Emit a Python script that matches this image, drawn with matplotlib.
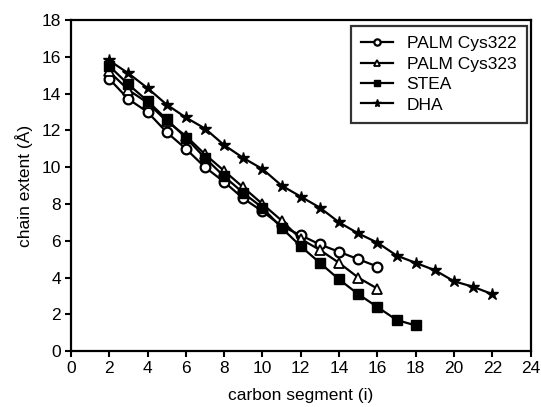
import matplotlib
matplotlib.use('Agg')
from matplotlib import pyplot as plt

plt.rcParams['font.family'] = ['Liberation Sans', 'DejaVu Sans']

# carbon segment positions
x_palm = list(range(2, 17))
x_stea = list(range(2, 19))
x_dha = list(range(2, 23))

palm322 = [14.8, 13.7, 13.0, 11.9, 11.0, 10.0, 9.2, 8.3, 7.6, 6.8, 6.3, 5.8, 5.4, 5.0, 4.6]
palm323 = [15.2, 14.2, 13.5, 12.5, 11.7, 10.7, 9.8, 8.9, 8.0, 7.1, 6.1, 5.5, 4.8, 4.0, 3.4]
stea = [15.5, 14.5, 13.6, 12.6, 11.6, 10.5, 9.5, 8.6, 7.8, 6.7, 5.7, 4.8, 3.9, 3.1, 2.4, 1.7, 1.4]
dha = [15.8, 15.1, 14.3, 13.4, 12.7, 12.1, 11.2, 10.5, 9.9, 9.0, 8.4, 7.8, 7.0, 6.4, 5.9,
       5.2, 4.8, 4.4, 3.8, 3.5, 3.1]

fig = plt.figure(figsize=(5.41, 4.07), dpi=100)
ax = fig.add_axes([0.131, 0.137, 0.850, 0.814])

ax.plot(x_palm, palm322, '-o', color='black', mfc='white', mec='black', ms=7, mew=1.6, lw=1.6, label='PALM Cys322')
ax.plot(x_palm, palm323, '-^', color='black', mfc='white', mec='black', ms=7, mew=1.3, lw=1.6, label='PALM Cys323')
ax.plot(x_stea, stea, '-s', color='black', ms=7, lw=1.6, label='STEA')
ax.plot(x_dha, dha, '-*', color='black', ms=9, lw=1.6, label='DHA')

ax.set_xlim(0, 24)
ax.set_ylim(0, 18)
ax.set_xticks(range(0, 25, 2))
ax.set_yticks(range(0, 19, 2))
ax.tick_params(labelsize=12.5, width=1.5, length=4, pad=3)
for s in ax.spines.values():
    s.set_linewidth(1.6)

ax.set_xlabel('carbon segment (i)', fontsize=12.5, labelpad=9)
ax.set_ylabel('chain extent (Å)', fontsize=12.5, labelpad=6)

leg = ax.legend(loc='upper right', fontsize=12.5, frameon=True, fancybox=False,
                edgecolor='black', handlelength=1.8, borderpad=0.6, labelspacing=0.3,
                markerscale=0.65, bbox_to_anchor=(0.991, 0.982), borderaxespad=0)
leg.get_frame().set_linewidth(1.6)

plt.savefig('out.png', dpi=100)
